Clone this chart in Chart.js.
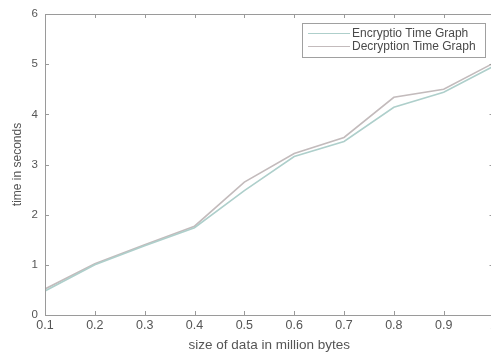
<!DOCTYPE html>
<html>
<head>
<meta charset="utf-8">
<script src="https://cdn.jsdelivr.net/npm/chart.js@4/dist/chart.umd.min.js"></script>
<style>
  html, body { margin: 0; padding: 0; background: #fff; overflow: hidden; }
  #wrap { width: 491px; height: 353px; overflow: hidden; }
</style>
</head>
<body>
<div id="wrap"><canvas id="chart" width="500" height="353"></canvas></div>
<script>
const sizes = [0.1, 0.2, 0.3, 0.4, 0.5, 0.6, 0.7, 0.8, 0.9, 1.0];
const encTimes = [0.48, 1.0, 1.38, 1.74, 2.48, 3.16, 3.46, 4.14, 4.44, 4.96];
const decTimes = [0.52, 1.02, 1.40, 1.77, 2.65, 3.22, 3.54, 4.34, 4.50, 5.02];
const seriesNames = ["Encryptio Time Graph", "Decryption Time Graph"];

const font = "'Liberation Sans', Arial, sans-serif";
const textColor = "#555";
const axisColor = "#9a9a9a";

const toPoints = ys => ys.map((y, i) => ({ x: sizes[i], y }));

// matlab-ish box with inward ticks + legend inside the axes
const boxPlugin = {
    id: "box",
    afterDraw(chart) {
        const { ctx, chartArea: a, scales } = chart;
        ctx.save();
        ctx.strokeStyle = axisColor;
        ctx.lineWidth = 1;
        ctx.strokeRect(a.left + 0.5, a.top + 0.5, a.right - a.left, a.bottom - a.top);

        ctx.beginPath();
        for (const t of scales.x.ticks) {
            const px = Math.round(scales.x.getPixelForValue(t.value)) + 0.5;
            ctx.moveTo(px, a.bottom); ctx.lineTo(px, a.bottom - 4);
            ctx.moveTo(px, a.top); ctx.lineTo(px, a.top + 4);
        }
        for (const t of scales.y.ticks) {
            const py = Math.round(scales.y.getPixelForValue(t.value)) + 0.5;
            ctx.moveTo(a.left, py); ctx.lineTo(a.left + 4, py);
            ctx.moveTo(a.right, py); ctx.lineTo(a.right - 4, py);
        }
        ctx.stroke();

        // legend
        const lx = 302, ly = 23, lw = 183, lh = 34;
        ctx.fillStyle = "#fff";
        ctx.fillRect(lx, ly, lw, lh);
        ctx.strokeStyle = "#a0a0a0";
        ctx.strokeRect(lx + 0.5, ly + 0.5, lw, lh);
        ctx.font = "12px " + font;
        ctx.textBaseline = "middle";
        chart.data.datasets.forEach((ds, i) => {
            const y = ly + 10 + i * 13;
            ctx.strokeStyle = ds.borderColor;
            ctx.lineWidth = 1.2;
            ctx.beginPath();
            ctx.moveTo(lx + 6, y + 0.5); ctx.lineTo(lx + 48, y + 0.5);
            ctx.stroke();
            ctx.fillStyle = "#4a4a4a";
            ctx.fillText(ds.label, lx + 50, y + 1);
        });
        ctx.restore();
    }
};

new Chart(document.getElementById("chart"), {
    type: "line",
    data: {
        datasets: [
            {
                label: seriesNames[0],
                data: toPoints(encTimes),
                borderColor: "#aecfcb",
                borderWidth: 1.6,
                pointRadius: 0,
                tension: 0
            },
            {
                label: seriesNames[1],
                data: toPoints(decTimes),
                borderColor: "#c3bbbc",
                borderWidth: 1.6,
                pointRadius: 0,
                tension: 0
            }
        ]
    },
    options: {
        responsive: false,
        animation: false,
        layout: { padding: { top: 14, right: 4, left: 0, bottom: 0 } },
        plugins: { legend: { display: false }, tooltip: { enabled: false } },
        scales: {
            x: {
                type: "linear",
                min: 0.1,
                max: 1.0,
                afterFit: s => { s.height = 38; },
                afterBuildTicks: s => {
                    s.ticks = sizes.map(v => ({ value: v }));
                },
                ticks: {
                    padding: 3,
                    color: textColor,
                    font: { family: font, size: 12.5 },
                    maxRotation: 0,
                    callback: v => Number(v.toFixed(1)).toString()
                },
                grid: { display: false, drawTicks: false },
                border: { display: false },
                title: {
                    display: true,
                    text: "size of data in million bytes",
                    color: textColor,
                    font: { family: font, size: 13.5 },
                    padding: { top: 0, bottom: 0 }
                }
            },
            y: {
                min: 0,
                max: 6,
                afterFit: s => { s.width = 45; },
                ticks: {
                    stepSize: 1,
                    padding: 7,
                    color: textColor,
                    font: { family: font, size: 11.5 }
                },
                grid: { display: false, drawTicks: false },
                border: { display: false },
                title: {
                    display: true,
                    text: "time in seconds",
                    color: textColor,
                    font: { family: font, size: 12 },
                    padding: { top: 10, bottom: 0 }
                }
            }
        }
    },
    plugins: [boxPlugin]
});
</script>
</body>
</html>
